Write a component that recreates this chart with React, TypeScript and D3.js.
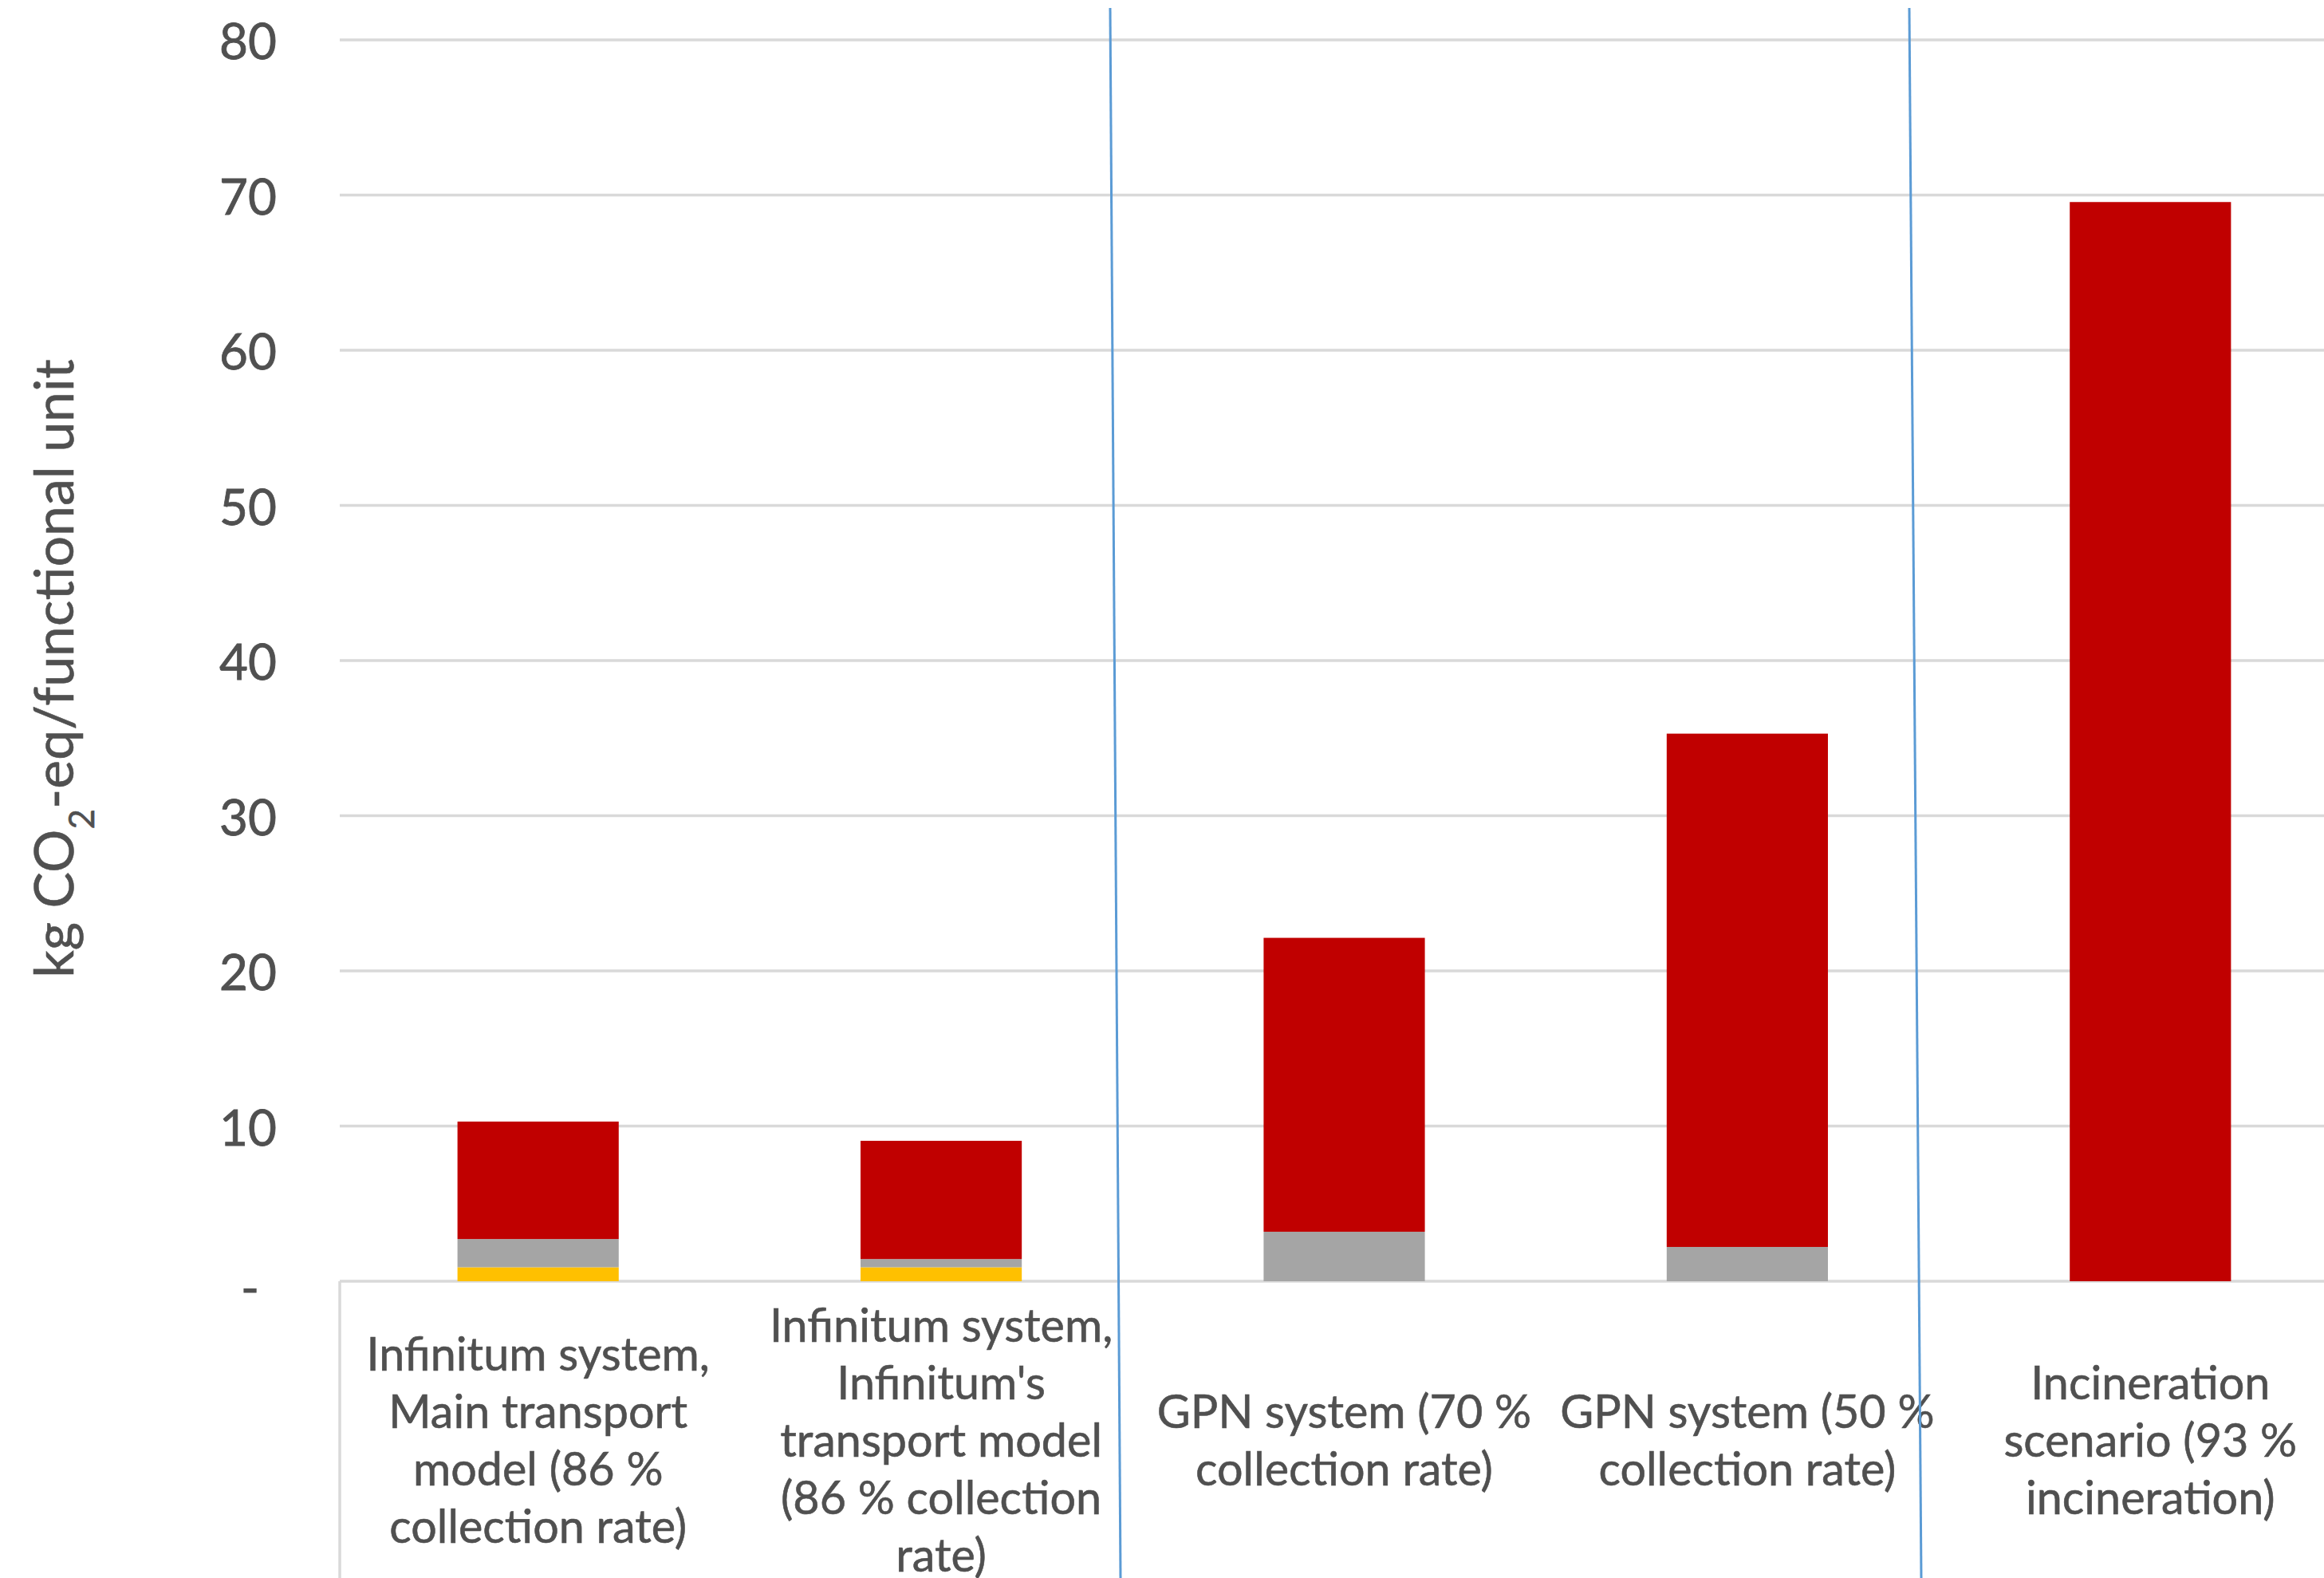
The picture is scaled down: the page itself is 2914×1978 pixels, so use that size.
import React from "react";
import * as d3 from "d3";

const categories = ["infMain", "infOwn", "gpn70", "gpn50", "incin"];
const categoryLabels: string[][] = [
  ["Infinitum system,", "Main transport", "model (86 %", "collection rate)"],
  ["Infinitum system,", "Infinitum's", "transport model", "(86 % collection", "rate)"],
  ["GPN system (70 %", "collection rate)"],
  ["GPN system (50 %", "collection rate)"],
  ["Incineration", "scenario (93 %", "incineration)"],
];
const seriesKeys = ["yellow", "gray", "red"];
const yellowValues = [0.9, 0.9, 0, 0, 0];
const grayValues = [1.82, 0.53, 3.19, 2.21, 0];
const redValues = [7.57, 7.62, 18.94, 33.08, 69.55];
const seriesColors = ["#FFC000", "#A5A5A5", "#C00000"];
const yTicks = [0, 10, 20, 30, 40, 50, 60, 70, 80];
const yTickLabels = ["-", "10", "20", "30", "40", "50", "60", "70", "80"];

const W = 2914;
const H = 1978;
const FONT = "Lato, 'Open Sans', sans-serif";
const TEXT = "#505050";

export default function App() {
  const x = d3.scaleBand<string>().domain(categories).range([422, 2949]).padding(0);
  const y = d3.scaleLinear().domain([0, 80]).range([1606, 50]);
  const barW = x.bandwidth() * 0.4;

  const rows = categories.map((c, i) => ({
    cat: c,
    yellow: yellowValues[i],
    gray: grayValues[i],
    red: redValues[i],
  }));
  const stacked = d3.stack<any>().keys(seriesKeys)(rows);

  const labelCenterY = 1803;
  const lineH = 72;

  return (
    <svg
      width={W}
      height={H}
      style={{ position: "absolute", left: 0, top: 0, background: "#fff" }}
      fontFamily={FONT}
    >
      <rect x={0} y={0} width={W} height={H} fill="#fff" />
      {yTicks.map((t) => (
        <line
          key={"g" + t}
          x1={426}
          x2={W}
          y1={y(t)}
          y2={y(t)}
          stroke="#D9D9D9"
          strokeWidth={3.5}
        />
      ))}
      <line x1={426} x2={426} y1={y(0)} y2={H} stroke="#D9D9D9" strokeWidth={3.5} />
      {yTicks.map((t, i) => (
        <text
          key={"t" + t}
          x={t === 0 ? 325 : 347}
          y={y(t) + (t === 0 ? 6 : 0)}
          textAnchor="end"
          dominantBaseline="central"
          fontSize={62}
          fill={TEXT}
          stroke={TEXT}
          strokeWidth={0.8}
        >
          {yTickLabels[i]}
        </text>
      ))}
      {stacked.map((s, si) =>
        s.map((d, i) =>
          d[1] - d[0] > 0 ? (
            <rect
              key={seriesKeys[si] + i}
              x={(x(categories[i]) as number) + (x.bandwidth() - barW) / 2}
              y={y(d[1])}
              width={barW}
              height={y(d[0]) - y(d[1])}
              fill={seriesColors[si]}
            />
          ) : null
        )
      )}
      {categoryLabels.map((lines, i) => {
        const cx = (x(categories[i]) as number) + x.bandwidth() / 2;
        const top = labelCenterY - ((lines.length - 1) * lineH) / 2;
        return (
          <text
            key={"c" + i}
            textAnchor="middle"
            fontSize={57.5}
            fill={TEXT}
            stroke={TEXT}
            strokeWidth={0.6}
          >
            {lines.map((l, j) => (
              <tspan key={j} x={cx} y={top + j * lineH} dominantBaseline="central">
                {l}
              </tspan>
            ))}
          </text>
        );
      })}
      <text
        transform={`translate(92, 838) rotate(-90)`}
        textAnchor="middle"
        fontSize={68}
        fill={TEXT}
        stroke={TEXT}
        strokeWidth={0.6}
      >
        kg CO
        <tspan baselineShift="sub" fontSize={44}>
          2
        </tspan>
        -eq/functional unit
      </text>
      <line x1={1392} y1={10} x2={1405} y2={H} stroke="#5B9BD5" strokeWidth={3} />
      <line x1={2394} y1={10} x2={2409} y2={H} stroke="#5B9BD5" strokeWidth={3} />
    </svg>
  );
}
